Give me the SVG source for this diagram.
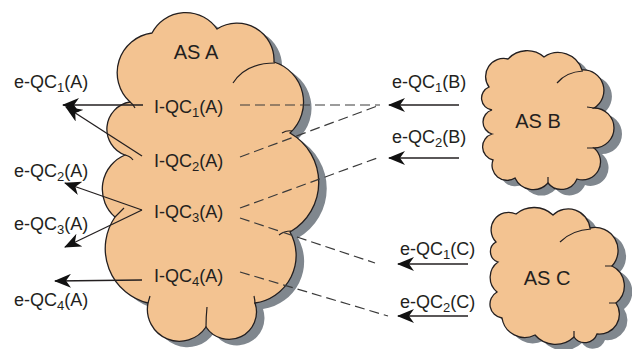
<svg xmlns="http://www.w3.org/2000/svg" xmlns:xlink="http://www.w3.org/1999/xlink" width="632" height="349" viewBox="0 0 632 349">
<style>
  .shadow { fill: #80878e; stroke: none; }
  .cloud { fill: #f3c391; stroke: #231f20; stroke-width: 1.3; }
  .tail { fill: none; stroke: #231f20; stroke-width: 1.2; }
  .lbl { font-family: "Liberation Sans", Arial, sans-serif; font-size: 18px; fill: #231f20; }
  .as { font-family: "Liberation Sans", Arial, sans-serif; font-size: 20px; fill: #231f20; text-anchor: middle; }
  .sub { font-size: 13px; }
  .arrow { fill: none; stroke: #231f20; stroke-width: 1.3; marker-end: url(#ah); }
  .dash { fill: none; stroke: #3a3a3a; stroke-width: 1.2; stroke-dasharray: 10 5; }
</style>
<defs>
  <marker id="ah" viewBox="0 0 17 14" refX="16" refY="7" markerWidth="17" markerHeight="14" markerUnits="userSpaceOnUse" orient="auto">
    <path d="M17,7 L0,0 L5,7 L0,14 Z" fill="#111"/>
  </marker>
  <path id="shapeA" d="M130,102 A40,40 0 0 1 152,33 A38,38 0 0 1 217,29 A37,37 0 0 1 274,62 A42,42 0 0 1 290,133 A57,57 0 0 1 290,232 A48,48 0 0 1 255,303 A27.5,27.5 0 0 1 206,327 A32,32 0 0 1 148,303 A56,56 0 0 1 115,217 A37,37 0 0 1 125,155 A27.5,27.5 0 0 1 130,102 Z"/>
  <path id="shapeB" d="M489,87 A18,18 0 0 1 508,59 A26,26 0 0 1 544,57 A25,25 0 0 1 582,70 A20.5,20.5 0 0 1 594,108 A20,20 0 0 1 594,148 A18,18 0 0 1 577,179 A17,17 0 0 1 548,183 A20,20 0 0 1 515,178 A15,15 0 0 1 493,160 A13.5,13.5 0 0 1 492,134 A12.5,12.5 0 0 1 492,110 A12,12 0 0 1 489,87 Z"/>
  <path id="shapeC" d="M496,242 A17.5,17.5 0 0 1 516,214 A28,28 0 0 1 553,215 A22,22 0 0 1 590,228 A23,23 0 0 1 612,266 A22,22 0 0 1 616,303 A20,20 0 0 1 597,334 A13,13 0 0 1 574,337 A27,27 0 0 1 535,335 A23,23 0 0 1 502,318 A14,14 0 0 1 497,292 A19,19 0 0 1 498,262 A11,11 0 0 1 496,242 Z"/>
</defs>

<g id="asA">
  <use xlink:href="#shapeA" href="#shapeA" class="shadow" transform="translate(8,6)"/>
  <use xlink:href="#shapeA" href="#shapeA" class="cloud"/>
  <path class="tail" d="M233,83 Q246,63 275,63 M282,133 Q287,130 292,131 M279,235 Q284,231 291,231 M254,296 Q255,300 255,304 M207,307 Q206,317 206,327 M148,303 L150,296 M115,217 L124,208 M125,155 Q130,156 133,160 M130,102 Q133,104 135,108"/>
  <text class="as" x="196" y="59">AS A</text>
</g>
<g id="asB">
  <use xlink:href="#shapeB" href="#shapeB" class="shadow" transform="translate(8,6)"/>
  <use xlink:href="#shapeB" href="#shapeB" class="cloud"/>
  <path class="tail" d="M557,83 Q566,72 583,71 M587,107 L594,108 M587,148 L594,148 M548,183 L548,177"/>
  <text class="as" x="538" y="128">AS B</text>
</g>
<g id="asC">
  <use xlink:href="#shapeC" href="#shapeC" class="shadow" transform="translate(8,6)"/>
  <use xlink:href="#shapeC" href="#shapeC" class="cloud"/>
  <path class="tail" d="M560,242 Q572,230 591,229 M605,266 L612,266 M609,303 L616,303 M574,337 L574,331"/>
  <text class="as" x="547" y="285">AS C</text>
</g>

<g id="iqc1"><text class="lbl" x="154" y="113">I-QC<tspan class="sub" dy="4">1</tspan><tspan dy="-4">(A)</tspan></text></g>
<g id="iqc2"><text class="lbl" x="154" y="167">I-QC<tspan class="sub" dy="4">2</tspan><tspan dy="-4">(A)</tspan></text></g>
<g id="iqc3"><text class="lbl" x="154" y="217.5">I-QC<tspan class="sub" dy="4">3</tspan><tspan dy="-4">(A)</tspan></text></g>
<g id="iqc4"><text class="lbl" x="154" y="282">I-QC<tspan class="sub" dy="4">4</tspan><tspan dy="-4">(A)</tspan></text></g>

<g id="eqc1A"><text class="lbl" x="14" y="88">e-QC<tspan class="sub" dy="4">1</tspan><tspan dy="-4">(A)</tspan></text></g>
<g id="eqc2A"><text class="lbl" x="14" y="177">e-QC<tspan class="sub" dy="4">2</tspan><tspan dy="-4">(A)</tspan></text></g>
<g id="eqc3A"><text class="lbl" x="14" y="230">e-QC<tspan class="sub" dy="4">3</tspan><tspan dy="-4">(A)</tspan></text></g>
<g id="eqc4A"><text class="lbl" x="14" y="306">e-QC<tspan class="sub" dy="4">4</tspan><tspan dy="-4">(A)</tspan></text></g>

<g id="eqc1B"><text class="lbl" x="392" y="88">e-QC<tspan class="sub" dy="4">1</tspan><tspan dy="-4">(B)</tspan></text></g>
<g id="eqc2B"><text class="lbl" x="392" y="143">e-QC<tspan class="sub" dy="4">2</tspan><tspan dy="-4">(B)</tspan></text></g>
<g id="eqc1C"><text class="lbl" x="400" y="255">e-QC<tspan class="sub" dy="4">1</tspan><tspan dy="-4">(C)</tspan></text></g>
<g id="eqc2C"><text class="lbl" x="400" y="308">e-QC<tspan class="sub" dy="4">2</tspan><tspan dy="-4">(C)</tspan></text></g>

<g id="connectors">
  <line class="arrow" x1="143" y1="105" x2="63" y2="105"/>
  <line class="arrow" x1="142" y1="156" x2="66" y2="107"/>
  <line class="arrow" x1="142" y1="210" x2="65" y2="183"/>
  <line class="arrow" x1="142" y1="210" x2="65" y2="247"/>
  <line class="arrow" x1="142" y1="280" x2="55" y2="281"/>
  <line class="arrow" x1="459" y1="105" x2="389" y2="105"/>
  <line class="arrow" x1="459" y1="158" x2="389" y2="158"/>
  <line class="arrow" x1="468" y1="264" x2="398" y2="264"/>
  <line class="arrow" x1="468" y1="316" x2="398" y2="316"/>
  <line class="dash" x1="240" y1="105" x2="380" y2="105"/>
  <line class="dash" x1="240" y1="157" x2="380" y2="105"/>
  <line class="dash" x1="240" y1="208" x2="380" y2="157"/>
  <line class="dash" x1="240" y1="218" x2="375" y2="263"/>
  <line class="dash" x1="240" y1="272" x2="388" y2="316"/>
</g>
</svg>
